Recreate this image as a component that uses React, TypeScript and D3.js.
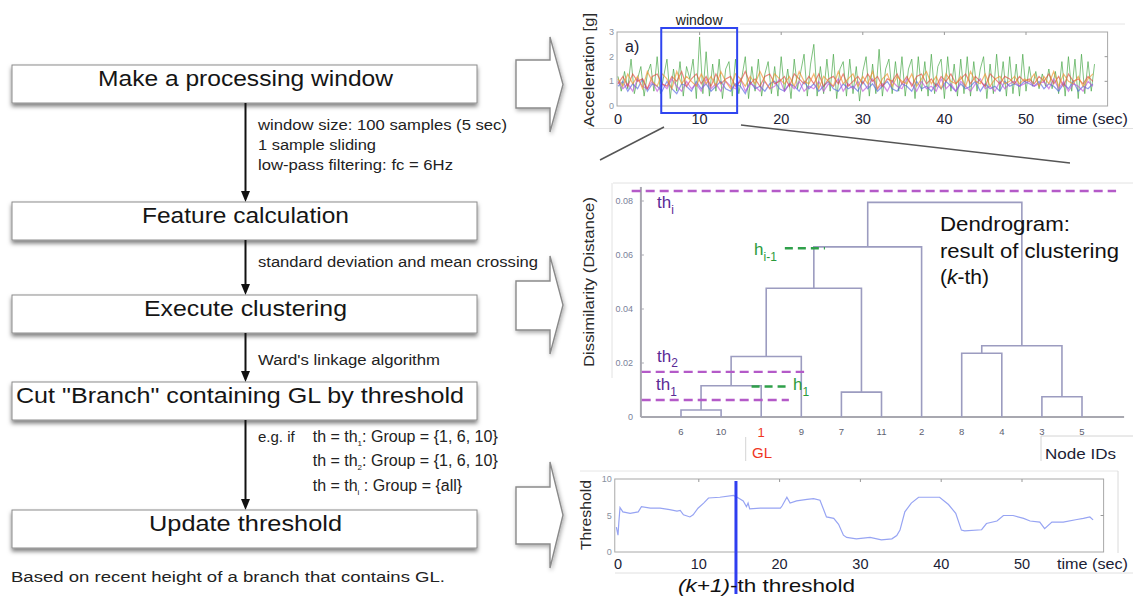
import React from 'react'
import * as d3 from 'd3'

const FONT = '"Liberation Sans", Arial, Helvetica, sans-serif'

// ---------- flow chart text
const steps = [
  'Make a processing window',
  'Feature calculation',
  'Execute clustering',
  'Cut "Branch" containing GL by threshold',
  'Update threshold'
]
const stepWidths = [295, 207, 203, 448, 193]
const notes = [
  { text: 'window size: 100 samples (5 sec)', w: 249 },
  { text: '1 sample sliding', w: 118 },
  { text: 'low-pass filtering: fc = 6Hz', w: 195 },
  { text: 'standard deviation and mean crossing', w: 280 },
  { text: "Ward's linkage algorithm", w: 182 }
]
const groupRules = [
  { sub: '1', group: '{1, 6, 10}' },
  { sub: '2', group: '{1, 6, 10}' },
  { sub: 'i', group: '{all}' }
]

// ---------- acceleration [g] (green every 0.4 s, others every 0.6 s)
const accelGreen = [
  1.2, 0.6, 1.4, 0.7, 1.9, 0.5, 1.1, 1.6, 0.4, 1.3, 1.7, 0.6, 2.0,
  0.5, 1.2, 1.9, 0.3, 1.5, 0.6, 1.8, 0.4, 1.6, 1.1, 1.9, 0.3,
  2.8, 0.5, 2.2, 0.4, 1.7, 0.6, 1.9, 0.3, 1.5, 1.8, 0.4, 1.9,
  0.5, 1.2, 2.0, 0.3, 1.6, 0.6, 1.9, 0.4, 1.3, 1.8, 0.5, 1.6,
  0.4, 2.0, 0.6, 1.5, 0.3, 1.9, 0.7, 1.4, 2.1, 0.4, 1.7, 2.5,
  0.4, 1.6, 0.5, 1.9, 0.6, 2.1, 0.3, 1.5, 1.8, 0.4, 1.9, 0.5,
  1.6, 0.2, 1.4, 2.0, 0.4, 1.7, 0.5, 2.3, 0.4, 1.5, 1.9, 0.5,
  1.8, 0.6, 2.0, 0.4, 1.5, 1.9, 0.3, 2.0, 0.6, 1.8, 0.4, 2.1,
  0.5, 1.6, 1.9, 0.3, 2.0, 0.6, 1.7, 0.4, 1.9, 0.5, 2.0, 0.4,
  1.8, 0.6, 1.5, 2.0, 0.3, 1.7, 0.5, 2.1, 0.6, 1.8, 0.4, 2.0,
  0.5, 1.7, 0.4, 2.1, 0.6, 1.6, 0.8, 1.4, 0.7, 1.3, 0.8, 1.5,
  0.7, 1.4, 0.5, 1.8, 0.4, 2.0, 0.6, 1.9, 0.3, 2.1, 0.5, 1.8,
  0.6, 1.7
]
const accelOrange = [
  1.1, 0.8, 1.3, 0.9, 1.2, 0.7, 1.4, 1.0, 0.8, 1.3,
  1.1, 0.7, 1.4, 0.9, 1.2, 1.0, 0.8, 1.3, 0.9, 1.2,
  0.8, 1.4, 1.0, 0.7, 1.3, 1.1, 0.8, 1.2, 0.9, 1.4,
  1.0, 0.7, 1.3, 1.1, 0.9, 1.2, 0.8, 1.4, 1.0, 0.9,
  1.3, 0.7, 1.2, 1.0, 0.8, 1.4, 0.9, 1.1, 1.3, 0.8,
  1.2, 0.9, 1.4, 0.7, 1.1, 1.3, 0.8, 1.2, 1.0, 0.9,
  1.3, 0.8, 1.1, 1.4, 0.9, 1.2, 0.7, 1.3, 1.0, 0.9,
  1.2, 0.8, 1.4, 1.0, 0.9, 1.3, 0.8, 1.1, 1.2, 0.9,
  1.0, 1.2, 0.9, 1.1, 1.0, 1.3, 0.8, 1.2, 0.9, 1.4,
  0.8, 1.3, 1.0, 0.9, 1.2, 0.8, 1.1, 1.3
]
const accelRed = [
  0.9, 1.2, 0.8, 1.3, 1.0, 1.1, 0.7, 1.2, 1.3, 0.9,
  0.8, 1.2, 1.0, 1.4, 0.8, 1.1, 1.3, 0.9, 1.2, 0.8,
  1.3, 0.9, 1.1, 1.2, 0.8, 1.0, 1.4, 0.9, 1.1, 0.8,
  1.2, 1.3, 0.9, 1.0, 1.2, 0.8, 1.3, 1.1, 0.9, 1.2,
  0.9, 1.3, 0.8, 1.1, 1.2, 0.9, 1.3, 0.8, 1.0, 1.2,
  0.9, 1.3, 1.0, 1.2, 0.8, 1.1, 1.0, 1.3, 0.9, 1.2,
  0.8, 1.2, 1.3, 0.9, 1.1, 0.8, 1.2, 1.0, 1.3, 0.9,
  1.1, 1.3, 0.9, 1.2, 1.0, 0.8, 1.3, 1.1, 0.9, 1.2,
  1.1, 0.9, 1.2, 1.0, 1.1, 0.9, 1.2, 1.0, 1.3, 0.9,
  1.2, 0.8, 1.3, 1.0, 1.1, 0.9, 1.2, 1.0
]
const accelBlue = [
  0.8, 1.0, 0.6, 0.9, 0.7, 1.1, 0.6, 0.9, 0.8, 0.6,
  1.0, 0.7, 0.5, 0.9, 0.8, 0.6, 1.0, 0.7, 0.9, 0.6,
  0.8, 1.0, 0.7, 0.6, 0.9, 0.8, 0.5, 1.0, 0.7, 0.8,
  0.6, 0.9, 1.0, 0.7, 0.6, 0.9, 0.8, 0.6, 1.0, 0.7,
  0.9, 0.6, 0.8, 1.0, 0.7, 0.6, 0.9, 0.7, 0.8, 0.6,
  1.0, 0.7, 0.9, 0.6, 0.8, 1.0, 0.7, 0.6, 0.9, 0.8,
  0.6, 1.0, 0.7, 0.8, 0.6, 0.9, 0.7, 1.0, 0.8, 0.6,
  0.9, 0.7, 0.8, 1.0, 0.6, 0.9, 0.7, 0.8, 0.6, 1.0,
  0.8, 0.9, 0.8, 1.0, 0.9, 0.8, 1.0, 0.7, 0.9, 0.8,
  0.6, 0.9, 0.7, 1.0, 0.6, 0.8, 0.7, 0.9
]
const accelPurple = [
  1.0, 0.7, 0.9, 0.6, 1.1, 0.8, 0.7, 1.0, 0.6, 0.9,
  0.7, 1.1, 0.8, 0.6, 1.0, 0.7, 0.9, 0.6, 1.1, 0.7,
  0.9, 0.6, 1.0, 0.8, 0.7, 1.1, 0.6, 0.9, 0.8, 0.6,
  1.0, 0.7, 0.8, 1.1, 0.6, 0.9, 0.7, 1.0, 0.6, 0.8,
  0.7, 1.0, 0.6, 0.9, 0.8, 1.1, 0.6, 0.9, 0.7, 1.0,
  0.6, 0.8, 1.1, 0.7, 0.9, 0.6, 1.0, 0.8, 0.7, 1.1,
  0.9, 0.6, 1.0, 0.7, 0.8, 0.6, 1.1, 0.7, 0.9, 0.6,
  1.0, 0.8, 0.6, 0.9, 1.1, 0.7, 0.8, 0.6, 1.0, 0.7,
  0.9, 1.0, 0.8, 0.9, 1.0, 0.8, 0.9, 1.0, 0.7, 1.1,
  0.7, 1.0, 0.6, 0.9, 0.8, 0.6, 1.0, 0.8
]
const accelSeries = [
  { values: accelGreen, step: 0.4, color: '#4aa84a' },
  { values: accelBlue, step: 0.6, color: '#5566e0' },
  { values: accelPurple, step: 0.6, color: '#c052d8' },
  { values: accelRed, step: 0.6, color: '#e04a3a' },
  { values: accelOrange, step: 0.6, color: '#f0902a' }
]
const timeTicks = [0, 10, 20, 30, 40, 50]
const accelTicks = [0, 1, 2, 3]
const windowSpan = [5.3, 14.6]

// ---------- dendrogram
const leafIds = ['6', '10', '1', '9', '7', '11', '2', '8', '4', '3', '5']
const merges: [string, string, number][] = [
  ['6', '10', 0.0026],
  ['m0', '1', 0.0116],
  ['m1', '9', 0.0224],
  ['7', '11', 0.0092],
  ['m2', 'm3', 0.0477],
  ['m4', '2', 0.063],
  ['3', '5', 0.0075],
  ['8', '4', 0.0236],
  ['m7', 'm6', 0.0264],
  ['m5', 'm8', 0.0795]
]
const disTicks = [0, 0.02, 0.04, 0.06, 0.08]
const thLines = [
  { sub: 'i', value: 0.0837, from: -1.23, to: 10.85 },
  { sub: '2', value: 0.0167, from: -0.98, to: 3.07 },
  { sub: '1', value: 0.0063, from: -0.98, to: 2.69 }
]
const hLines = [
  { sub: 'i-1', value: 0.0625, from: 2.59, to: 3.59 },
  { sub: '1', value: 0.0113, from: 1.76, to: 2.69 }
]

// ---------- threshold over time
const thrTime = [
  -0.2, 0, 0.1, 0.25, 0.6, 1.5, 2.5, 2.9, 4, 5.2, 6.4, 7.3, 7.7, 8.1, 8.9, 9.3, 9.9,
  10.6, 11.2, 12.6, 14.3, 14.9, 15.5, 15.9, 16.1, 16.3, 17.6, 20.1, 20.3, 20.9, 21.3,
  22.1, 23.4, 24.2, 25.0, 25.8, 26.7, 27.3, 27.9, 28.3, 29.5, 31.2, 32.6, 33.9, 34.5,
  34.9, 35.5, 36.3, 37.2, 39.8, 40.9, 41.8, 42.5, 42.9, 45.0, 45.6, 46.9, 47.7, 48.9,
  50.2, 51.0, 52.2, 52.8, 53.7, 55.1, 56.8, 57.6, 58.4, 58.8
]
const thrValue = [
  3.4, 2.3, 4.0, 6.1, 5.5, 5.3, 5.5, 6.2, 6.0, 6.0, 5.8, 5.6, 5.7, 5.1, 4.8, 5.1, 6.0,
  6.7, 7.4, 7.5, 7.75, 7.4, 7.0, 6.2, 6.7, 5.9, 6.0, 6.0, 6.3, 7.5, 6.7,
  7.0, 7.2, 7.3, 7.1, 4.8, 4.6, 3.8, 2.3, 2.0, 1.8, 2.0, 1.65, 1.8, 2.25,
  3.0, 5.5, 6.7, 7.5, 7.5, 6.5, 5.3, 3.0, 2.9, 3.05, 3.9, 4.25, 5.0, 5.0,
  4.6, 4.25, 4.1, 3.2, 4.1, 4.1, 4.45, 4.6, 4.8, 4.4
]
const thrTicks = [0, 5, 10]
const currentTime = 14.6

const boxTops = [65, 202, 295, 382, 510]
const BOX_H = 38

const Shadowed = ({ children }: { children: React.ReactNode }) => (
  <g filter="url(#shadow)">{children}</g>
)

const BlockArrow = ({ headTop, headBottom, shaftTop, shaftBottom }: any) => {
  const tip = (headTop + headBottom) / 2
  const d = `M516,${shaftTop} H550 V${headTop} L563,${tip} L550,${headBottom} V${shaftBottom} H516 Z`
  return <path d={d} fill="#fff" stroke="#8a8a8a" strokeWidth={1.4} filter="url(#shadow2)" />
}

const FlowChart = () => {
  const cx = 245.5
  return (
    <g fontFamily={FONT}>
      {boxTops.map((top, i) => (
        <g key={i}>
          <Shadowed>
            <rect x={12} y={top} width={465} height={BOX_H} fill="#fff" stroke="#8c8c8c" strokeWidth={1} />
          </Shadowed>
          <text
            x={i === 3 ? 16 : cx - stepWidths[i] / 2}
            y={top + 21}
            fontSize={22}
            fill="#151515"
            textLength={stepWidths[i]}
            lengthAdjust="spacingAndGlyphs"
          >
            {steps[i]}
          </text>
          {i < boxTops.length - 1 && (
            <g>
              <line x1={cx} x2={cx} y1={top + BOX_H} y2={boxTops[i + 1] - 8} stroke="#111" strokeWidth={2} />
              <path d={`M${cx - 4.5},${boxTops[i + 1] - 11} L${cx + 4.5},${boxTops[i + 1] - 11} L${cx},${boxTops[i + 1]} Z`} fill="#111" />
            </g>
          )}
        </g>
      ))}
      {[130, 150, 170].map((y, i) => (
        <text key={i} x={258} y={y} fontSize={14} fill="#222" textLength={notes[i].w} lengthAdjust="spacingAndGlyphs">
          {notes[i].text}
        </text>
      ))}
      <text x={258} y={266.5} fontSize={14} fill="#222" textLength={notes[3].w} lengthAdjust="spacingAndGlyphs">
        {notes[3].text}
      </text>
      <text x={258} y={365} fontSize={14} fill="#222" textLength={notes[4].w} lengthAdjust="spacingAndGlyphs">
        {notes[4].text}
      </text>
      <text x={258} y={441.7} fontSize={15} fill="#222">e.g. if</text>
      {groupRules.map((r, i) => (
        <text key={i} x={312.7} y={441.7 + i * 24.5} fontSize={16} fill="#222">
          th = th<tspan fontSize={8} dy={4}>{r.sub}</tspan>
          <tspan dy={-4}>{r.sub === 'i' ? ' ' : ''}: Group = {r.group}</tspan>
        </text>
      ))}
      <text x={11} y={581.7} fontSize={15.5} fill="#222" textLength={434} lengthAdjust="spacingAndGlyphs">
        Based on recent height of a branch that contains GL.
      </text>
      <BlockArrow headTop={37} headBottom={132} shaftTop={60} shaftBottom={108} />
      <BlockArrow headTop={256} headBottom={354} shaftTop={281} shaftBottom={330} />
      <BlockArrow headTop={462} headBottom={568} shaftTop={487} shaftBottom={544} />
    </g>
  )
}

const AccelChart = () => {
  const x = d3.scaleLinear().domain([0, 50]).range([618, 1026])
  const y = d3.scaleLinear().domain([0, 3]).range([106, 32])
  const x0 = x(-0.12), x1 = x(60.0)
  return (
    <g fontFamily={FONT}>
      <line x1={740} x2={1125} y1={24} y2={24} stroke="#e4e4e4" />
      <line x1={588} x2={1133} y1={128.5} y2={128.5} stroke="#e0e0e0" />
      <rect x={x0} y={y(3)} width={x1 - x0} height={y(0) - y(3)} fill="#fff" stroke="#a8a8a8" />
      {accelSeries.map((s, k) => {
        const line = d3.line<number>().x((d, i) => x(i * s.step)).y(d => y(d))
        return (
          <path key={k} d={line(s.values) || ''} fill="none" stroke={s.color}
            strokeOpacity={k === 0 ? 0.7 : 0.65} strokeWidth={k === 0 ? 1 : 1.2} />
        )
      })}
      {timeTicks.slice(1).map(t => (
        <line key={t} x1={x(t)} x2={x(t)} y1={y(3)} y2={y(3) + 3} stroke="#999" />
      ))}
      {[1, 2].map(v => (
        <line key={v} x1={x1} x2={x1 - 3} y1={y(v)} y2={y(v)} stroke="#999" />
      ))}
      {accelTicks.map(v => (
        <text key={v} x={x0 - 3} y={y(v) + 3} fontSize={9} fill="#8890a0" textAnchor="end">{v}</text>
      ))}
      {timeTicks.map(t => (
        <text key={t} x={x(t)} y={124} fontSize={14.5} fill="#1b2235" textAnchor="middle">{t}</text>
      ))}
      <text x={1057} y={124} fontSize={14.5} fill="#1b2235" textLength={71} lengthAdjust="spacingAndGlyphs">time (sec)</text>
      <text x={625} y={52} fontSize={16} fill="#1b2235">a)</text>
      <rect x={x(windowSpan[0])} y={28} width={x(windowSpan[1]) - x(windowSpan[0])} height={85}
        fill="none" stroke="#2f45f0" strokeWidth={2} />
      <text x={(x(windowSpan[0]) + x(windowSpan[1])) / 2} y={25} fontSize={14} fill="#222" textAnchor="middle">window</text>
      <text transform="translate(594,70) rotate(-90)" fontSize={14} fill="#2a2a2a" textAnchor="middle"
        textLength={114} lengthAdjust="spacingAndGlyphs">Acceleration [g]</text>
      <line x1={664} y1={127} x2={600} y2={160} stroke="#555" strokeWidth={1.5} />
      <line x1={741} y1={125} x2={1070} y2={163} stroke="#555" strokeWidth={1.5} />
    </g>
  )
}

const Dendrogram = () => {
  const xi = d3.scaleLinear().domain([0, 10]).range([681, 1082])
  const y = d3.scaleLinear().domain([0, 0.08]).range([417, 201])
  const pos: Record<string, { x: number; h: number }> = {}
  leafIds.forEach((id, i) => { pos[id] = { x: xi(i), h: 0 } })
  const links = merges.map(([a, b, h], k) => {
    const pa = pos[a], pb = pos[b]
    pos['m' + k] = { x: (pa.x + pb.x) / 2, h }
    return `M${pa.x},${y(pa.h)} V${y(h)} H${pb.x} V${y(pb.h)}`
  })
  return (
    <g fontFamily={FONT}>
      <line x1={613} x2={1133} y1={183} y2={183} stroke="#e2e2e2" />
      <line x1={612} x2={612} y1={183} y2={378} stroke="#e2e2e2" />
      <line x1={xi(-1)} x2={xi(-1)} y1={y(0)} y2={y(0.0852)} stroke="#a8a8b0" strokeWidth={2} />
      <line x1={xi(-1)} x2={xi(11.05)} y1={y(0)} y2={y(0)} stroke="#a8a8b0" strokeWidth={2} />
      {disTicks.map(v => (
        <g key={v}>
          <line x1={xi(-1)} x2={xi(-1) + 3} y1={y(v)} y2={y(v)} stroke="#a8a8b0" />
          <text x={633} y={y(v) + 3} fontSize={9} fill="#7a7f9a" textAnchor="end">{v === 0 ? '0' : v.toFixed(2)}</text>
        </g>
      ))}
      {links.map((d, i) => <path key={i} d={d} fill="none" stroke="#9c9cc0" strokeWidth={1.6} />)}
      {leafIds.map((id, i) => (
        <text key={id} x={xi(i)} y={id === '1' ? 437 : 435} fontSize={id === '1' ? 13 : 9.5}
          fill={id === '1' ? '#f0361e' : '#5c6070'} textAnchor="middle">{id}</text>
      ))}
      {thLines.map(l => (
        <line key={l.sub} x1={xi(l.from)} x2={xi(l.to)} y1={y(l.value)} y2={y(l.value)}
          stroke="#b45ac8" strokeWidth={2.3} strokeDasharray="9 5" />
      ))}
      {hLines.map(l => (
        <line key={l.sub} x1={xi(l.from)} x2={xi(l.to)} y1={y(l.value)} y2={y(l.value)}
          stroke="#2fa04a" strokeWidth={2.3} strokeDasharray="8 5" />
      ))}
      <g fontSize={17} fill="#5a2a96">
        <text x={657} y={208}>th<tspan fontSize={12} dy={6}>i</tspan></text>
        <text x={657} y={361.5}>th<tspan fontSize={12} dy={5}>2</tspan></text>
        <text x={656} y={390}>th<tspan fontSize={12} dy={6}>1</tspan></text>
      </g>
      <g fontSize={17} fill="#2a9a3a">
        <text x={754} y={255}>h<tspan fontSize={12} dy={6}>i-1</tspan></text>
        <text x={793} y={390}>h<tspan fontSize={12} dy={6}>1</tspan></text>
      </g>
      <g fontSize={21} fill="#111">
        <text x={940} y={231} textLength={130} lengthAdjust="spacingAndGlyphs">Dendrogram:</text>
        <text x={940} y={258} textLength={179} lengthAdjust="spacingAndGlyphs">result of clustering</text>
        <text x={940} y={284}>(<tspan fontStyle="italic">k</tspan>-th)</text>
      </g>
      <text transform="translate(594,282) rotate(-90)" fontSize={14} fill="#2a2a2a" textAnchor="middle"
        textLength={170} lengthAdjust="spacingAndGlyphs">Dissimilarity (Distance)</text>
      <line x1={745.7} x2={745.7} y1={437} y2={461} stroke="#d4d4d4" />
      <text x={752} y={458} fontSize={15} fill="#f0361e">GL</text>
      <path d="M1133,436 H1041 V461" fill="none" stroke="#d4d4d4" />
      <text x={1045} y={459} fontSize={15} fill="#1b2235" textLength={71} lengthAdjust="spacingAndGlyphs">Node IDs</text>
    </g>
  )
}

const ThresholdChart = () => {
  const x = d3.scaleLinear().domain([0, 50]).range([618, 1022])
  const y = d3.scaleLinear().domain([0, 10]).range([552, 479])
  const x0 = x(-0.4), x1 = x(60.1)
  const line = d3.line<number>().x((d, i) => x(thrTime[i])).y(d => y(d))
  return (
    <g fontFamily={FONT}>
      <line x1={580} x2={1118} y1={471} y2={471} stroke="#e6e6e6" />
      <line x1={1118} x2={1118} y1={471} y2={553} stroke="#dadada" />
      <line x1={615} x2={1133} y1={573} y2={573} stroke="#e0e0e0" />
      <rect x={x0} y={y(10)} width={x1 - x0} height={y(0) - y(10)} fill="#fff" stroke="#a8a8a8" />
      {timeTicks.slice(1).map(t => (
        <line key={t} x1={x(t)} x2={x(t)} y1={y(10)} y2={y(10) + 3} stroke="#999" />
      ))}
      <line x1={x1} x2={x1 - 3} y1={y(5)} y2={y(5)} stroke="#999" />
      {thrTicks.map(v => (
        <text key={v} x={x0 - 3} y={y(v) + 3} fontSize={9} fill="#8890a0" textAnchor="end">{v}</text>
      ))}
      <path d={line(thrValue) || ''} fill="none" stroke="#97a4f3" strokeWidth={1.2} />
      <line x1={x(currentTime)} x2={x(currentTime)} y1={481} y2={594} stroke="#2f3ef0" strokeWidth={3} />
      {timeTicks.map(t => (
        <text key={t} x={x(t)} y={569} fontSize={14.5} fill="#1b2235" textAnchor="middle">{t}</text>
      ))}
      <text x={1057} y={569} fontSize={14.5} fill="#1b2235" textLength={71} lengthAdjust="spacingAndGlyphs">time (sec)</text>
      <text transform="translate(591,515) rotate(-90)" fontSize={14} fill="#2a2a2a" textAnchor="middle"
        textLength={70} lengthAdjust="spacingAndGlyphs">Threshold</text>
      <text x={678} y={592} fontSize={19} fill="#111" textLength={177} lengthAdjust="spacingAndGlyphs">
        <tspan fontStyle="italic">(k+1)</tspan>-th threshold
      </text>
    </g>
  )
}

export default function App() {
  return (
    <svg width={1133} height={603} style={{ position: 'absolute', left: 0, top: 0, background: '#fff' }}>
      <defs>
        <filter id="shadow" x="-5%" y="-30%" width="110%" height="180%">
          <feDropShadow dx={0} dy={3} stdDeviation={2.2} floodColor="#000" floodOpacity={0.5} />
        </filter>
        <filter id="shadow2" x="-30%" y="-10%" width="160%" height="130%">
          <feDropShadow dx={1} dy={2} stdDeviation={2} floodColor="#000" floodOpacity={0.35} />
        </filter>
      </defs>
      <rect width={1133} height={603} fill="#fff" />
      <FlowChart />
      <AccelChart />
      <Dendrogram />
      <ThresholdChart />
    </svg>
  )
}
